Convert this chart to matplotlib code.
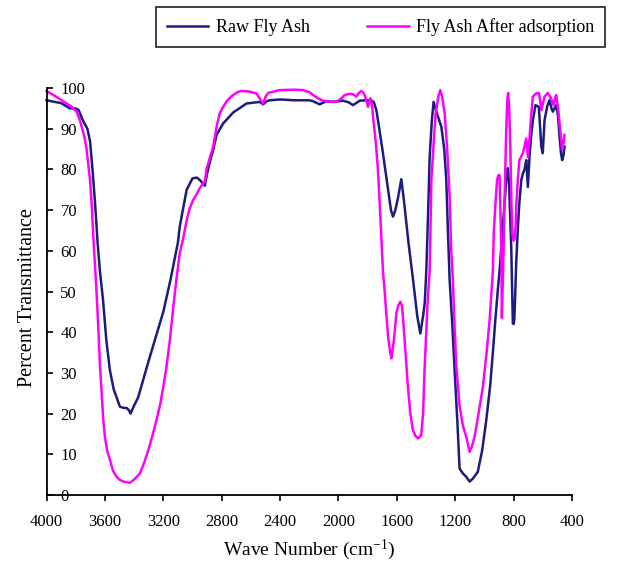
import numpy as np
import matplotlib
matplotlib.use("Agg")
import matplotlib.pyplot as plt

plt.rcParams['font.family'] = ['Liberation Serif', 'DejaVu Serif']
plt.rcParams['mathtext.default'] = 'regular'

# Raw fly ash spectrum (wave number, % transmittance)
raw_wn = [4000, 3900, 3840, 3800, 3780, 3750, 3720, 3702, 3685, 3668, 3650, 3634,
          3613, 3590, 3566, 3540, 3520, 3497, 3470, 3451, 3435, 3424, 3400, 3372,
          3300, 3250, 3200, 3150, 3100, 3087, 3040, 3000, 2970, 2949, 2915, 2900,
          2880, 2858, 2835, 2790, 2721, 2630, 2539, 2516, 2490, 2470, 2400, 2300,
          2200, 2176, 2129, 2080, 2037, 1969, 1930, 1900, 1854, 1800, 1774, 1757,
          1740, 1720, 1695, 1660, 1640, 1626, 1610, 1592, 1569, 1550, 1520, 1489,
          1460, 1439, 1420, 1409, 1398, 1385, 1375, 1360, 1348, 1329, 1295, 1275,
          1261, 1250, 1238, 1220, 1204, 1185, 1170, 1147, 1125, 1101, 1080, 1045,
          1015, 987, 960, 942, 925, 908, 896, 880, 865, 850, 839, 830, 825, 816,
          810, 805, 800, 795, 788, 782, 770, 760, 747, 736, 725, 713, 702, 691,
          680, 668, 650, 640, 627, 618, 610, 600, 594, 588, 570, 554, 540, 531,
          508, 495, 485, 475, 467, 458, 451]
raw_t = [97.0, 96.3, 95.0, 95.0, 94.6, 92.0, 90.0, 87.0, 80.0, 72.0, 62.0, 55.0,
         48.0, 38.0, 30.7, 26.0, 24.0, 21.7, 21.4, 21.4, 20.8, 20.0, 22.0, 24.0,
         33.0, 39.0, 45.0, 53.0, 62.0, 66.0, 75.0, 77.8, 78.0, 77.4, 76.0, 79.0,
         82.0, 84.8, 88.5, 91.3, 94.0, 96.2, 96.6, 96.0, 96.8, 97.0, 97.2, 97.0,
         97.0, 96.8, 96.0, 96.8, 96.6, 96.9, 96.5, 95.8, 96.9, 97.0, 97.0, 96.5,
         94.6, 90.0, 84.0, 75.0, 70.0, 68.4, 70.0, 73.0, 77.6, 72.0, 62.0, 53.0,
         44.0, 39.7, 44.0, 47.0, 55.0, 70.0, 83.0, 92.0, 96.6, 94.2, 90.5, 85.0,
         77.4, 65.0, 52.8, 42.0, 30.7, 18.0, 6.5, 5.3, 4.5, 3.3, 4.0, 5.7,
         11.0, 18.4, 27.0, 35.0, 43.0, 50.4, 55.0, 63.0, 70.0, 77.4, 80.3, 76.0, 70.0, 61.0,
         50.0, 42.2, 42.0, 43.0, 50.0, 57.0, 66.0, 72.0, 77.4, 79.0, 80.0, 82.3, 75.7, 83.0,
         88.0, 92.0, 95.8, 95.6, 95.4, 90.0, 85.6, 84.0, 88.0, 92.0, 95.5, 97.0, 95.0, 94.2,
         95.8, 93.0, 88.0, 84.0, 82.3, 83.5, 85.6]

# Fly ash after adsorption
ads_wn = [4000, 3930, 3862, 3820, 3794, 3775, 3759, 3740, 3725, 3702, 3690, 3680,
          3667, 3656, 3645, 3634, 3622, 3612, 3600, 3585, 3565, 3545, 3520,
          3500, 3474, 3450, 3429, 3400, 3360, 3330, 3303, 3275, 3246, 3220, 3200,
          3180, 3155, 3132, 3110, 3087, 3064, 3040, 3018, 2995, 2970, 2950, 2927,
          2915, 2904, 2880, 2858, 2835, 2813, 2790, 2760, 2722, 2690, 2664, 2620,
          2562, 2540, 2516, 2500, 2482, 2402, 2300, 2243, 2200, 2174, 2140, 2106,
          2060, 2014, 1985, 1957, 1920, 1900, 1877, 1860, 1843, 1830, 1820, 1810,
          1797, 1781, 1770, 1763, 1745, 1729, 1712, 1695, 1683, 1660, 1645, 1637,
          1620, 1603, 1590, 1576, 1565, 1558, 1540, 1524, 1507, 1490, 1472, 1455,
          1433, 1420, 1410, 1398, 1387, 1375, 1363, 1345, 1334, 1315, 1302, 1290,
          1272, 1255, 1238, 1227, 1216, 1205, 1193, 1170, 1147, 1124, 1110, 1101,
          1085, 1067, 1040, 1010, 985, 964, 942, 935, 925, 913, 903, 896, 890, 884,
          880, 872, 860, 850, 843, 837, 830, 822, 815, 808, 800, 793, 786, 780,
          770, 760, 736, 713, 702, 691, 680, 668, 645, 627, 618, 610, 600, 588,
          566, 543, 527, 515, 508, 495, 485, 467, 458, 451]
ads_t = [99.3, 97.8, 96.2, 95.2, 94.2, 92.5, 90.5, 88.0, 84.8, 77.4, 71.0, 64.0,
         56.0, 49.0, 41.0, 32.0, 25.0, 19.0, 14.3, 11.0, 8.6, 6.0, 4.5,
         3.8, 3.3, 3.1, 3.0, 3.8, 5.3, 8.0, 11.0, 14.5, 18.4, 22.5, 26.6,
         31.0, 38.0, 46.0, 53.0, 59.4, 63.0, 67.5, 70.5, 72.5, 74.0, 75.4, 76.6,
         77.0, 80.0, 83.0, 85.6, 90.5, 93.8, 95.4, 97.0, 98.3, 99.0, 99.3, 99.2,
         98.7, 97.5, 96.2, 97.8, 98.8, 99.5, 99.6, 99.5, 99.0, 98.3, 97.5, 96.9,
         96.7, 96.6, 97.3, 98.3, 98.6, 98.5, 97.9, 98.8, 99.3, 98.9, 98.3, 97.0,
         95.4, 97.5, 96.0, 93.0, 87.0, 80.0, 68.0, 55.0, 50.0, 39.0, 35.0, 33.6,
         38.0, 44.6, 46.5, 47.5, 46.5, 43.8, 35.0, 26.6, 20.0, 16.0, 14.5, 13.9,
         14.7, 20.0, 30.7, 40.0, 48.7, 55.0, 77.4, 88.0, 93.8, 98.0, 99.5, 98.0,
         93.8, 85.0, 73.3, 60.0, 52.8, 42.0, 32.0, 22.0, 17.0, 14.3, 12.0, 10.6,
         12.0, 14.3, 20.0, 26.6, 35.0, 43.0, 55.0, 65.0, 71.0, 77.4, 78.6, 78.6, 70.0, 60.0,
         43.5, 55.0, 75.0, 90.0, 97.0, 98.8, 95.0, 85.0, 72.0, 64.0, 62.5, 63.0, 66.0, 72.0,
         78.0, 82.3, 84.0, 87.6, 83.0, 87.6, 93.0, 97.9, 98.7, 98.8, 97.0, 94.6, 96.0, 97.9,
         98.8, 97.5, 95.8, 97.5, 98.3, 95.0, 91.3, 84.8, 86.5, 88.5]

x_ticks = [4000, 3600, 3200, 2800, 2400, 2000, 1600, 1200, 800, 400]
y_ticks = [0, 10, 20, 30, 40, 50, 60, 70, 80, 90, 100]

fig = plt.figure(figsize=(6.27, 5.66), dpi=100)
ax = fig.add_axes([0.0742, 0.1254, 0.838, 0.719])

ax.plot(raw_wn, raw_t, color='#1c1c7e', lw=1.8, label='Raw Fly Ash', clip_on=False)
ax.plot(ads_wn, ads_t, color='#ff00ff', lw=1.8, label='Fly Ash After adsorption', clip_on=False)

ax.set_xlim(4000, 400)
ax.set_ylim(0, 100)
ax.set_xticks(x_ticks)
ax.set_yticks(y_ticks)
ax.spines['top'].set_visible(False)
ax.spines['right'].set_visible(False)
ax.spines['left'].set_linewidth(1.3)
ax.spines['bottom'].set_linewidth(1.3)
ax.tick_params(axis='x', direction='out', length=4, width=1.2, labelsize=12, pad=9.5)
ax.tick_params(axis='y', direction='in', length=4, width=1.2, labelsize=12, pad=-10)
for lab in ax.get_yticklabels():
    lab.set_horizontalalignment('left')

ax.set_xlabel('Wave Number (cm$^{-1}$)', fontsize=14, labelpad=6)
ax.set_ylabel('Percent Transmittance', fontsize=14.5)
ax.yaxis.set_label_coords(-0.018, 0.485)

leg = fig.legend(loc='center', bbox_to_anchor=(0.607, 0.9525), ncol=2, fontsize=13,
                 frameon=True, fancybox=False, edgecolor='black', handlelength=2.3,
                 columnspacing=3.2, borderpad=0.6, handletextpad=0.4)
leg.get_frame().set_linewidth(1.3)

fig.savefig('out.png', dpi=100)
